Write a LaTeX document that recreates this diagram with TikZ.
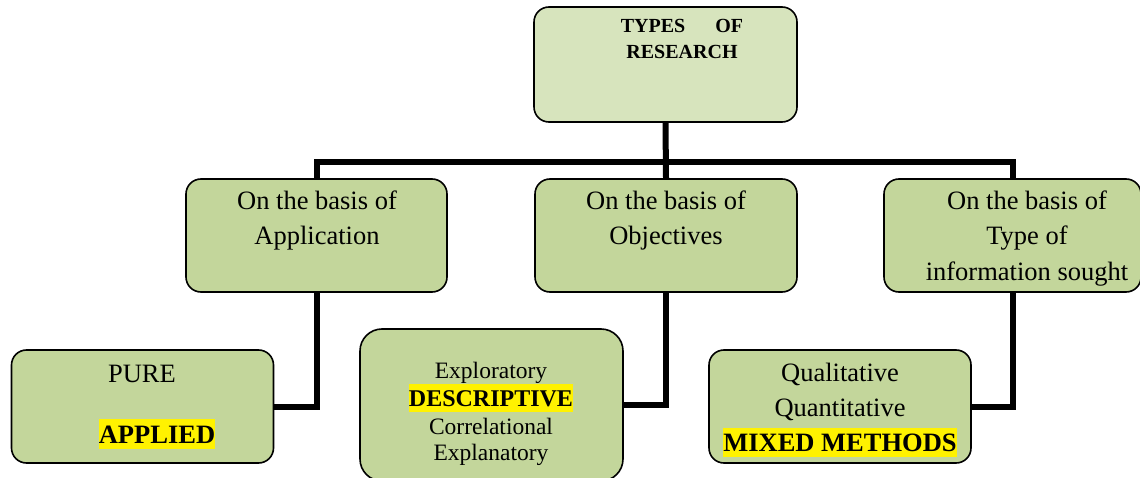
\documentclass[tikz,border=0pt]{standalone}
\usepackage{fontspec}
\setmainfont{Liberation Serif}
\begin{document}
\begin{tikzpicture}[x=1pt,y=-1pt,
  box/.style={draw=black,line width=1.6pt,rounded corners=15pt,fill=boxgreen,inner sep=0pt},
  link/.style={line width=6pt,line join=miter},
  lbl/.style={anchor=base,inner sep=0pt,font=\fontsize{26.5}{32}\selectfont},
  small/.style={anchor=base,inner sep=0pt,font=\fontsize{23.5}{28}\selectfont},
  hl/.style={anchor=base,inner sep=0pt,fill=yellow,font=\bfseries}]
\definecolor{boxgreen}{HTML}{C3D69B}
\definecolor{topgreen}{HTML}{D7E4BD}
\useasboundingbox (0,0) rectangle (1140,478);

% boxes
\node[box,fill=topgreen,minimum width=263pt,minimum height=115pt] (top) at (665.5,64.5) {};
\node[box,minimum width=261pt,minimum height=113pt] (app) at (316.5,235.5) {};
\node[box,minimum width=262pt,minimum height=113pt] (obj) at (666,235.5) {};
\node[box,minimum width=257pt,minimum height=113pt] (info) at (1012.5,235.5) {};
\node[box,minimum width=262pt,minimum height=113pt] (pure) at (142.5,406.5) {};
\node[box,rounded corners=22pt,minimum width=263pt,minimum height=152pt] (desc) at (491.5,405) {};
\node[box,minimum width=262pt,minimum height=113pt] (mixed) at (840,406.5) {};

% connectors
\coordinate (bar) at (665,162);
\draw[link] (top.south) -- (obj.north);
\draw[link] (app.north) -- (app.north |- bar) -- (info.north |- bar) -- (info.north);
\draw[link] (app.south) |- (pure.east);
\draw[link] (obj.south) |- (desc.east);
\draw[link] (info.south) |- (mixed.east);

% title
\node[anchor=base,inner sep=0pt,font=\bfseries\fontsize{20}{24}\selectfont] (t1) at (682,33) {TYPES\hspace{30pt}OF};
\node[anchor=base,inner sep=0pt,font=\bfseries\fontsize{20}{24}\selectfont] (t2) at (682,59) {RESEARCH};

% second level
\node[lbl] (a1) at (317,210) {On the basis of};
\node[lbl] (a2) at (317,245) {Application};
\node[lbl] (b1) at (666,210) {On the basis of};
\node[lbl] (b2) at (666,245) {Objectives};
\node[lbl] (c1) at (1027,210) {On the basis of};
\node[lbl] (c2) at (1027,245) {Type of};
\node[lbl] (c3) at (1027,280) {information sought};

% third level
\node[lbl] (p1) at (142,382) {PURE};
\node[lbl,hl,font=\bfseries\fontsize{26.5}{30}\selectfont,text height=24pt,text depth=6pt] (p2) at (157,443) {APPLIED};

\node[small] (d1) at (491,378) {Exploratory};
\node[small,hl,font=\bfseries\fontsize{24}{28}\selectfont,text height=22pt,text depth=6pt] (d2) at (491,406) {DESCRIPTIVE};
\node[small] (d3) at (491,434) {Correlational};
\node[small] (d4) at (491,460) {Explanatory};

\node[lbl] (m1) at (840,381) {Qualitative};
\node[lbl] (m2) at (840,416) {Quantitative};
\node[lbl,hl,font=\bfseries\fontsize{26.5}{30}\selectfont,text height=23pt,text depth=6pt] (m3) at (840,451) {MIXED METHODS};
\end{tikzpicture}
\end{document}
